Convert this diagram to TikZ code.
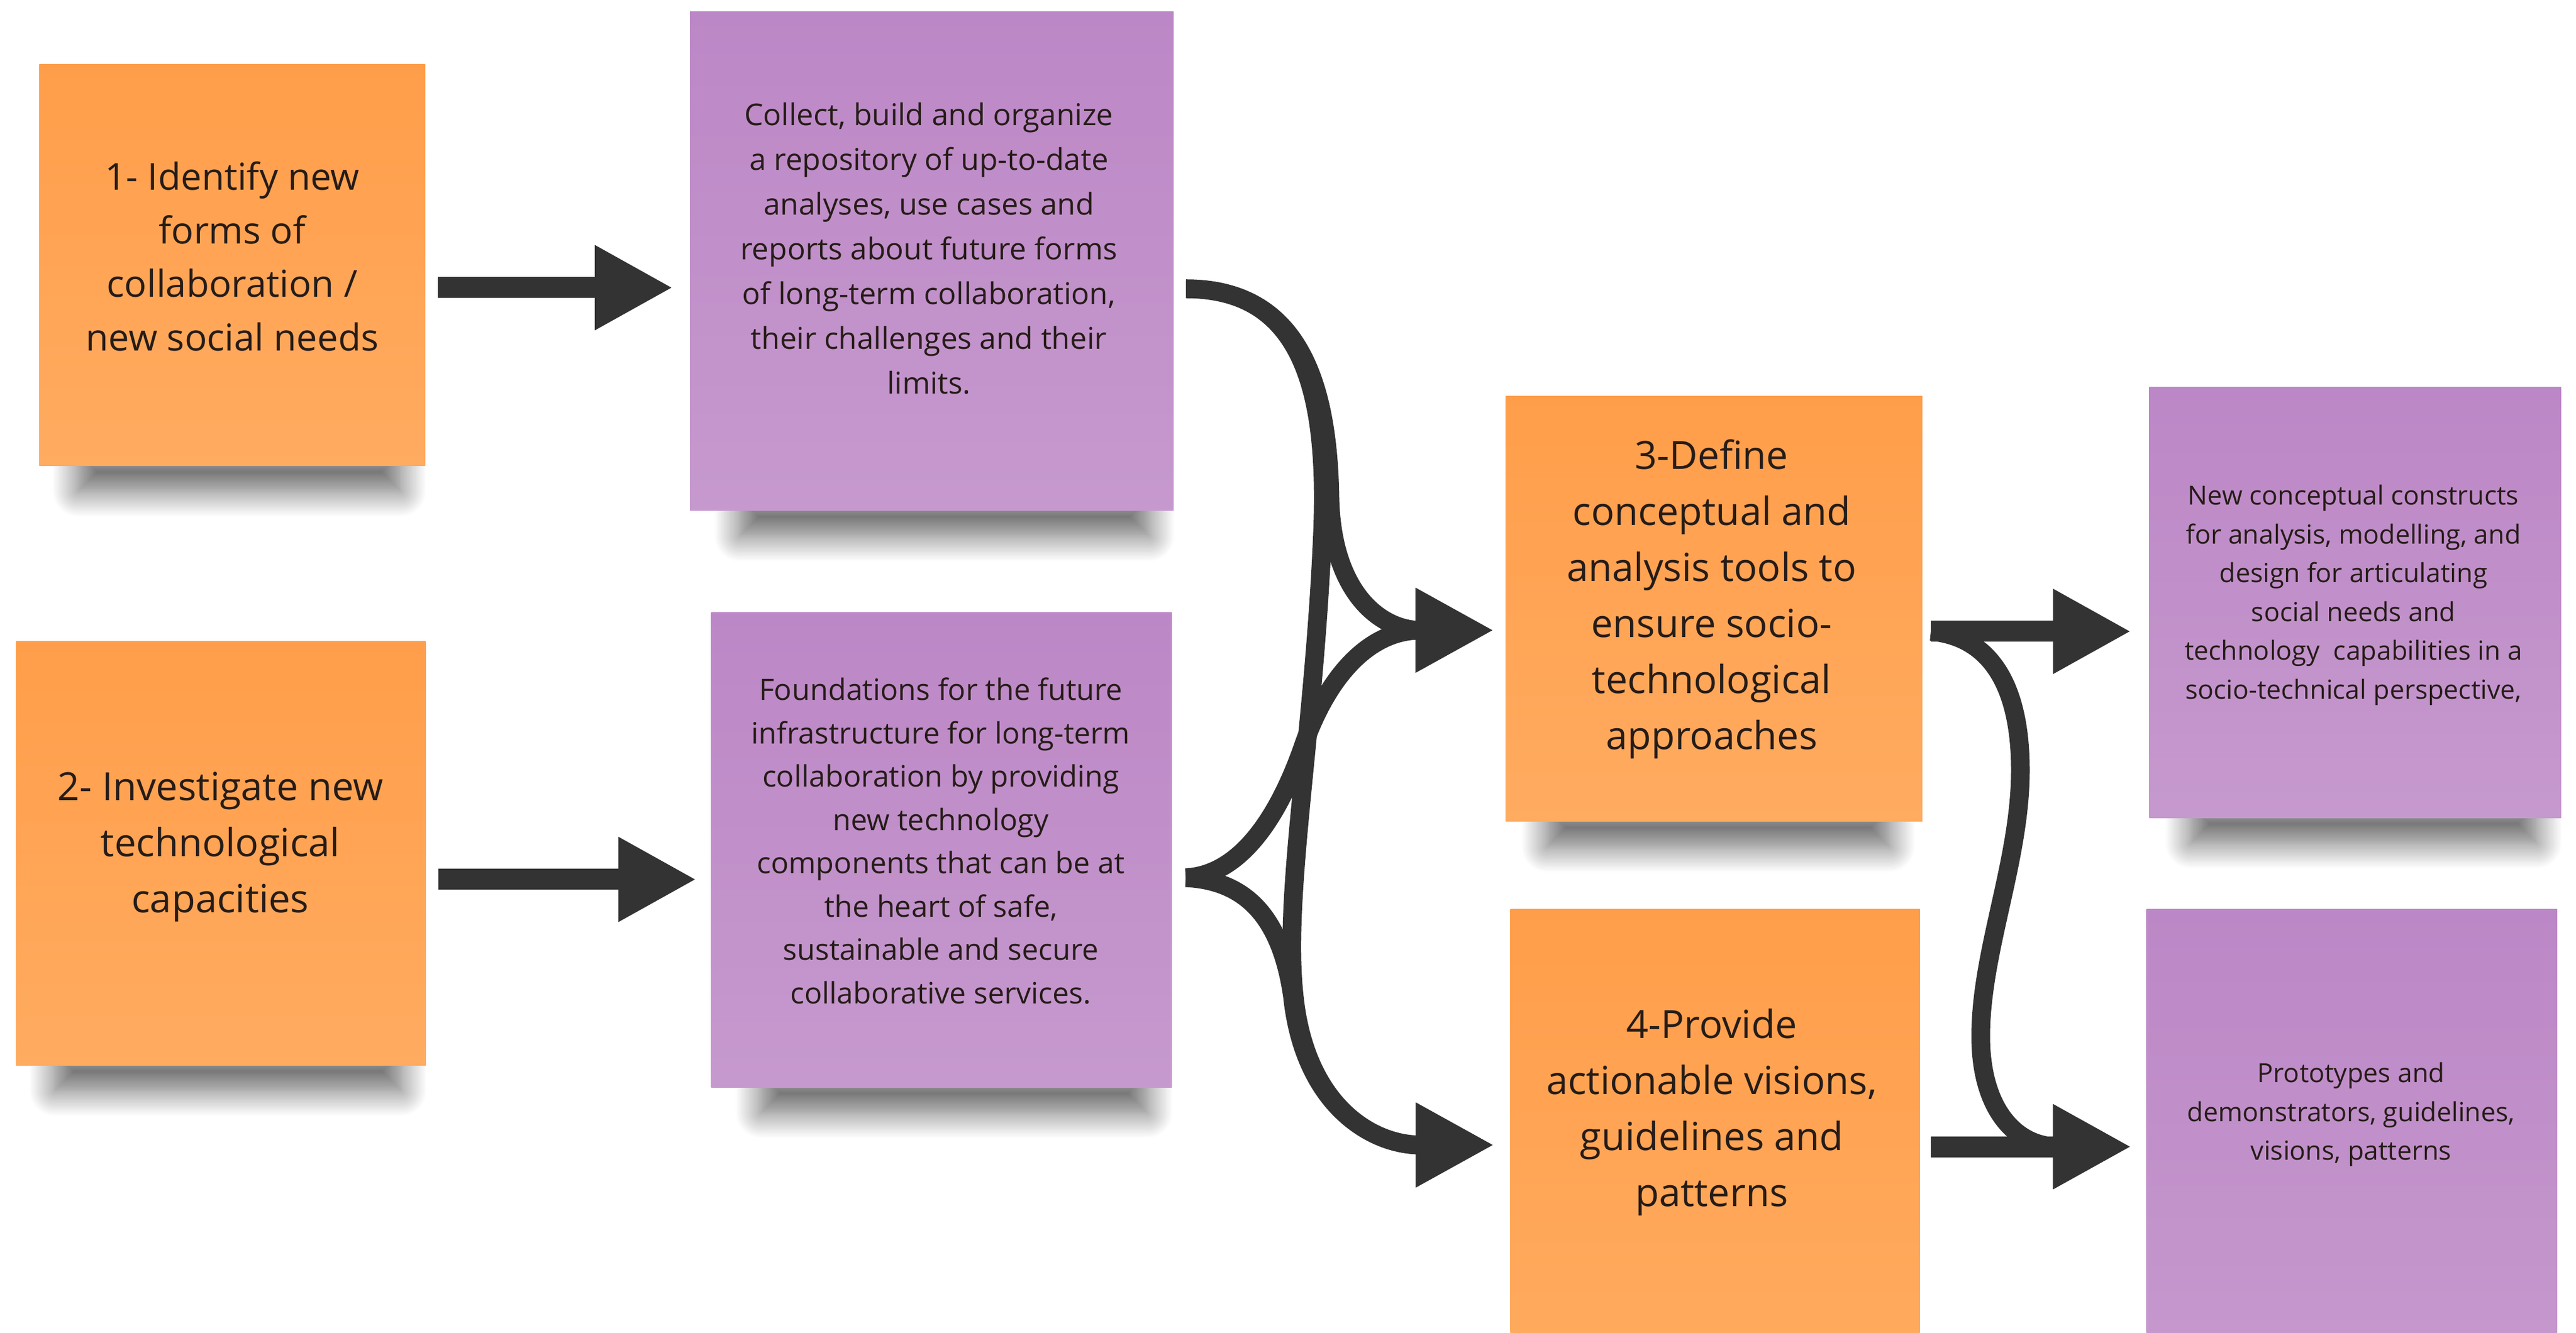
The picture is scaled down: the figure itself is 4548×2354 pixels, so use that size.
\documentclass[tikz,border=0pt]{standalone}
\usepackage{fontspec}
\setmainfont{Open Sans}
\usetikzlibrary{arrows.meta,calc,shadows.blur,backgrounds}
\definecolor{noteorange}{RGB}{255,158,74}
\definecolor{noteorangelight}{RGB}{255,171,96}
\definecolor{notepurple}{RGB}{188,135,198}
\definecolor{notepurplelight}{RGB}{198,153,206}
\definecolor{arrowgray}{RGB}{51,51,51}
\definecolor{inkdark}{RGB}{38,28,24}
\tikzset{every picture/.style={line width=0.75pt}}
\tikzset{
  sticky/.style={rectangle, inner sep=0pt, draw=none},
  orangenote/.style={sticky, top color=noteorange, bottom color=noteorangelight},
  purplenote/.style={sticky, top color=notepurple, bottom color=notepurplelight},
  noteshadow/.style={blur shadow={shadow xshift=0pt, shadow yshift=-3pt, shadow opacity=60, shadow blur radius=9pt, shadow blur steps=20}},
  bigtext/.style={align=center, text=inkdark, inner sep=0pt, font=\fontsize{13.7}{19.8}\selectfont},
  midtext/.style={align=center, text=inkdark, inner sep=0pt, font=\fontsize{10.6}{15.8}\selectfont},
  smalltext/.style={align=center, text=inkdark, inner sep=0pt, font=\fontsize{9.3}{13.7}\selectfont},
  flow/.style={draw=arrowgray, line width=7.4pt, -{Triangle[length=27.6pt,width=28pt]}},
  branch/.style={draw=arrowgray, line width=6.6pt, -{Triangle[length=27.6pt,width=28pt]}}
}

\begin{document}
\begin{tikzpicture}[x=0.2pt,y=-0.2pt]
		\useasboundingbox (0,0) rectangle (4548,2354);
		
		%Sticky notes, left column
		\node[orangenote, minimum width=136.2pt, minimum height=141.8pt] (n1) at (410,468) {};
		\node[orangenote, minimum width=144.6pt, minimum height=149.6pt] (n2) at (390,1507) {};
		%Sticky notes, repositories
		\node[purplenote, minimum width=170.8pt, minimum height=176.2pt] (pA) at (1645,461) {};
		\node[purplenote, minimum width=162.6pt, minimum height=167.6pt] (pB) at (1662,1501) {};
		%Sticky notes, tools
		\node[orangenote, minimum width=147.2pt, minimum height=150.2pt] (n3) at (3026,1075) {};
		\node[orangenote, minimum width=144.6pt, minimum height=167.6pt] (n4) at (3028,2025) {};
		%Sticky notes, results
		\node[purplenote, minimum width=145.4pt, minimum height=152pt] (pC) at (4158,1064) {};
		\node[purplenote, minimum width=145pt, minimum height=167.6pt] (pD) at (4152,2025) {};
		
		%Shadows under the notes
		\begin{scope}[on background layer]
		\path[noteshadow] ($(n1.south west)+(70,-40)$) rectangle ($(n1.south east)+(-45,28)$);
		\path[noteshadow] ($(n2.south west)+(70,-40)$) rectangle ($(n2.south east)+(-45,28)$);
		\path[noteshadow] ($(pA.south west)+(90,-40)$) rectangle ($(pA.south east)+(-45,28)$);
		\path[noteshadow] ($(pB.south west)+(90,-40)$) rectangle ($(pB.south east)+(-45,28)$);
		\path[noteshadow] ($(n3.south west)+(75,-40)$) rectangle ($(n3.south east)+(-60,28)$);
		\path[noteshadow] ($(pC.south west)+(75,-40)$) rectangle ($(pC.south east)+(-45,28)$);
		\end{scope}
		
		% Text Node
		\node[bigtext, font=\fontsize{13.1}{18.9}\selectfont] (t1) at ($(n1)+(0,-15)$) {1- Identify new\\forms of\\collaboration /\\new social needs};
		% Text Node
		\node[bigtext] (t2) at ($(n2)+(-1,-11)$) {2- Investigate new\\technological\\capacities};
		% Text Node
		\node[midtext] (tA) at ($(pA)+(-5,-22)$) {Collect, build and organize\\a repository of up-to-date\\analyses, use cases and\\reports about future forms\\of long-term collaboration,\\their challenges and their\\limits.};
		% Text Node
		\node[midtext, font=\fontsize{10.4}{15.3}\selectfont] (tB) at ($(pB)+(-1,-16)$) {Foundations for the future\\infrastructure for long-term\\collaboration by providing\\new technology\\components that can be at\\the heart of safe,\\sustainable and secure\\collaborative services.};
		% Text Node
		\node[bigtext] (t3) at ($(n3)+(-4,-17)$) {3-Define\\conceptual and\\analysis tools to\\ensure socio-\\technological\\approaches};
		% Text Node
		\node[bigtext] (t4) at ($(n4)+(-6,-61)$) {4-Provide\\actionable visions,\\guidelines and\\patterns};
		% Text Node
		\node[smalltext] (tC) at ($(pC)+(-3,-13)$) {New conceptual constructs\\for analysis, modelling, and\\design for articulating\\social needs and\\technology\ \ capabilities in a\\socio-technical perspective,};
		% Text Node
		\node[smalltext] (tD) at ($(pD)+(-1,-57)$) {Prototypes and\\demonstrators, guidelines,\\visions, patterns};
		
		%Arrow ends
		\coordinate (outA) at ($(pA.east)+(20,49)$);
		\coordinate (outB) at ($(pB.east)+(23,49)$);
		\coordinate (in3) at ($(n3.west)+(-19,38)$);
		\coordinate (in4) at ($(n4.west)+(-27,-3)$);
		\coordinate (out3) at ($(n3.east)+(13,40)$);
		\coordinate (out4) at ($(n4.east)+(18,0)$);
		\coordinate (inC) at ($(pC.west)+(-30,51)$);
		\coordinate (inD) at ($(pD.west)+(-25,0)$);
		
		%Straight Lines
		\draw[flow] ($(n1.east)+(21,40)$) -- ($(pA.west)+(-28,47)$);
		%Straight Lines
		\draw[flow] ($(n2.east)+(21,46)$) -- ($(pB.west)+(-24,52)$);
		%Straight Lines
		\draw[flow] (out3) -- (inC);
		%Straight Lines
		\draw[flow] (out4) -- (inD);
		
		%Curve Lines
		\draw[branch] (outA) .. controls (2300,510) and (2345,690) .. (2348,880) .. controls (2352,1050) and (2440,1113) .. (in3);
		%Curve Lines
		\draw[branch] (outA) .. controls (2300,510) and (2345,690) .. (2335,940) .. controls (2320,1300) and (2265,1580) .. (2285,1760) .. controls (2305,1950) and (2420,2022) .. (in4);
		%Curve Lines
		\draw[branch] (outB) .. controls (2200,1545) and (2265,1420) .. (2300,1320) .. controls (2345,1190) and (2420,1113) .. (in3);
		%Curve Lines
		\draw[branch] (outB) .. controls (2200,1555) and (2262,1620) .. (2282,1760) .. controls (2302,1950) and (2420,2022) .. (in4);
		%Curve Lines
		\draw[branch] (out3) .. controls (3520,1125) and (3567,1220) .. (3567,1360) .. controls (3567,1520) and (3497,1680) .. (3497,1830) .. controls (3497,1960) and (3560,2025) .. (inD);
		
	\end{tikzpicture}
\end{document}
